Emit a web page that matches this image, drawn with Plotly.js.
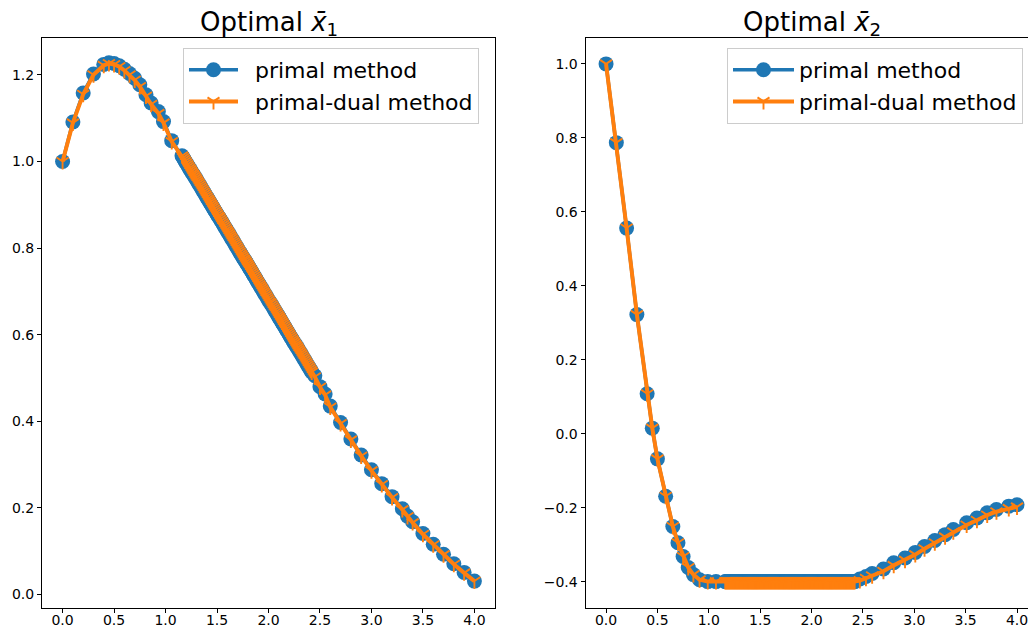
<!DOCTYPE html>
<html>
<head>
<meta charset="utf-8">
<script src="https://cdn.plot.ly/plotly-3.0.1.min.js"></script>
<style>html,body{margin:0;padding:0;background:#fff;}#chart{width:1028px;height:630px;}</style>
</head>
<body>
<div id="chart"></div>
<script>
// ---- time grid of the densely sampled (constrained) stretch, shared by both subplots ----
const tBand = [1.16, 1.17, 1.18, 1.19, 1.20, 1.21, 1.22, 1.23, 1.24, 1.25, 1.26, 1.27, 1.28, 1.29, 1.30, 1.31, 1.32, 1.33, 1.34, 1.35,
  1.36, 1.37, 1.38, 1.39, 1.40, 1.41, 1.42, 1.43, 1.44, 1.45, 1.46, 1.47, 1.48, 1.49, 1.50, 1.51, 1.52, 1.53, 1.54, 1.55,
  1.56, 1.57, 1.58, 1.59, 1.60, 1.61, 1.62, 1.63, 1.64, 1.65, 1.66, 1.67, 1.68, 1.69, 1.70, 1.71, 1.72, 1.73, 1.74, 1.75,
  1.76, 1.77, 1.78, 1.79, 1.80, 1.81, 1.82, 1.83, 1.84, 1.85, 1.86, 1.87, 1.88, 1.89, 1.90, 1.91, 1.92, 1.93, 1.94, 1.95,
  1.96, 1.97, 1.98, 1.99, 2.00, 2.01, 2.02, 2.03, 2.04, 2.05, 2.06, 2.07, 2.08, 2.09, 2.10, 2.11, 2.12, 2.13, 2.14, 2.15,
  2.16, 2.17, 2.18, 2.19, 2.20, 2.21, 2.22, 2.23, 2.24, 2.25, 2.26, 2.27, 2.28, 2.29, 2.30, 2.31, 2.32, 2.33, 2.34, 2.35,
  2.36, 2.37, 2.38, 2.39, 2.40, 2.41, 2.42];

// ---- Left subplot: Optimal x̄1 ----
const t1Early = [0, 0.1, 0.2, 0.3, 0.4, 0.45, 0.5, 0.55, 0.6, 0.65, 0.7, 0.75, 0.81, 0.86, 0.93, 0.98, 1.06];
const t1Late = [2.45, 2.5, 2.55, 2.6, 2.7, 2.8, 2.9, 3.0, 3.1, 3.2, 3.3, 3.35, 3.4, 3.5, 3.6, 3.7, 3.8, 3.9, 4.0];
const x1PrimalEarly = [1.0, 1.091, 1.158, 1.202, 1.224, 1.228, 1.226, 1.221, 1.213, 1.203, 1.192, 1.177, 1.154, 1.135, 1.115, 1.092, 1.048];
const x1DualEarly = [1.0, 1.089, 1.155, 1.200, 1.222, 1.226, 1.224, 1.219, 1.210, 1.200, 1.188, 1.173, 1.151, 1.132, 1.111, 1.089, 1.046];
const x1Band = [1.013, 1.009, 1.005, 1.001, 0.997, 0.993, 0.989, 0.985, 0.981, 0.977, 0.973, 0.970, 0.966, 0.962, 0.958, 0.954, 0.950, 0.946, 0.942, 0.938,
  0.934, 0.930, 0.926, 0.922, 0.918, 0.914, 0.910, 0.906, 0.902, 0.898, 0.894, 0.890, 0.886, 0.882, 0.878, 0.874, 0.871, 0.867, 0.863, 0.859,
  0.855, 0.851, 0.847, 0.843, 0.839, 0.835, 0.831, 0.827, 0.823, 0.819, 0.815, 0.811, 0.807, 0.803, 0.799, 0.795, 0.791, 0.787, 0.783, 0.779,
  0.775, 0.772, 0.768, 0.764, 0.760, 0.756, 0.752, 0.748, 0.744, 0.740, 0.736, 0.732, 0.728, 0.724, 0.720, 0.716, 0.712, 0.708, 0.704, 0.700,
  0.696, 0.692, 0.688, 0.684, 0.680, 0.676, 0.673, 0.669, 0.665, 0.661, 0.657, 0.653, 0.649, 0.645, 0.641, 0.637, 0.633, 0.629, 0.625, 0.621,
  0.617, 0.613, 0.609, 0.605, 0.601, 0.597, 0.593, 0.589, 0.585, 0.581, 0.577, 0.574, 0.570, 0.566, 0.562, 0.558, 0.554, 0.550, 0.546, 0.542,
  0.538, 0.534, 0.530, 0.526, 0.522, 0.518, 0.514];
const x1PrimalLate = [0.505, 0.480, 0.463, 0.435, 0.397, 0.359, 0.322, 0.288, 0.256, 0.226, 0.198, 0.181, 0.168, 0.141, 0.116, 0.093, 0.071, 0.051, 0.031];
const x1DualLate = [0.503, 0.479, 0.461, 0.433, 0.395, 0.357, 0.320, 0.286, 0.254, 0.224, 0.196, 0.180, 0.166, 0.139, 0.115, 0.092, 0.070, 0.050, 0.031];

// ---- Right subplot: Optimal x̄2 ----
const t2Early = [0, 0.1, 0.2, 0.3, 0.4, 0.45, 0.5, 0.58, 0.65, 0.7, 0.75, 0.8, 0.85, 0.91, 0.99, 1.07];
const t2Late = [2.47, 2.53, 2.59, 2.7, 2.8, 2.91, 3.01, 3.1, 3.2, 3.3, 3.38, 3.51, 3.61, 3.71, 3.8, 3.92, 4.0];
const x2Early = [1.0, 0.787, 0.556, 0.322, 0.108, 0.015, -0.068, -0.169, -0.251, -0.295, -0.332, -0.362, -0.381, -0.395, -0.400, -0.400];
const x2Band = [-0.4, -0.4, -0.4, -0.4, -0.4, -0.4, -0.4, -0.4, -0.4, -0.4, -0.4, -0.4, -0.4, -0.4, -0.4, -0.4, -0.4, -0.4, -0.4, -0.4,
  -0.4, -0.4, -0.4, -0.4, -0.4, -0.4, -0.4, -0.4, -0.4, -0.4, -0.4, -0.4, -0.4, -0.4, -0.4, -0.4, -0.4, -0.4, -0.4, -0.4,
  -0.4, -0.4, -0.4, -0.4, -0.4, -0.4, -0.4, -0.4, -0.4, -0.4, -0.4, -0.4, -0.4, -0.4, -0.4, -0.4, -0.4, -0.4, -0.4, -0.4,
  -0.4, -0.4, -0.4, -0.4, -0.4, -0.4, -0.4, -0.4, -0.4, -0.4, -0.4, -0.4, -0.4, -0.4, -0.4, -0.4, -0.4, -0.4, -0.4, -0.4,
  -0.4, -0.4, -0.4, -0.4, -0.4, -0.4, -0.4, -0.4, -0.4, -0.4, -0.4, -0.4, -0.4, -0.4, -0.4, -0.4, -0.4, -0.4, -0.4, -0.4,
  -0.4, -0.4, -0.4, -0.4, -0.4, -0.4, -0.4, -0.4, -0.4, -0.4, -0.4, -0.4, -0.4, -0.4, -0.4, -0.4, -0.4, -0.4, -0.4, -0.4,
  -0.4, -0.4, -0.4, -0.4, -0.4, -0.4, -0.4];
const x2PrimalLate = [-0.393, -0.386, -0.378, -0.366, -0.349, -0.336, -0.321, -0.305, -0.289, -0.273, -0.259, -0.241, -0.228, -0.214, -0.205, -0.196, -0.192];
const x2DualLate = [-0.397, -0.391, -0.384, -0.372, -0.356, -0.342, -0.327, -0.311, -0.295, -0.279, -0.265, -0.247, -0.234, -0.220, -0.211, -0.202, -0.198];

const seriesNames = ['primal method', 'primal-dual method'];
const titles = ['Optimal <i>x̄</i><sub>1</sub>', 'Optimal <i>x̄</i><sub>2</sub>'];
const xTicks = [0, 0.5, 1, 1.5, 2, 2.5, 3, 3.5, 4];

const t1 = t1Early.concat(tBand, t1Late);
const t2 = t2Early.concat(tBand, t2Late);
const x1Primal = x1PrimalEarly.concat(x1Band, x1PrimalLate);
const x1Dual = x1DualEarly.concat(x1Band, x1DualLate);
const x2Primal = x2Early.concat(x2Band, x2PrimalLate);
const x2Dual = x2Early.concat(x2Band, x2DualLate);

const BLUE = '#1f77b4', ORANGE = '#ff7f0e';
const FONT = 'DejaVu Sans, sans-serif';

function primalTrace(x, y, xa, ya, lg) {
  return {x: x, y: y, xaxis: xa, yaxis: ya, legend: lg, name: seriesNames[0], type: 'scatter', mode: 'lines+markers',
    line: {color: BLUE, width: 3.5}, marker: {color: BLUE, size: 15, symbol: 'circle'}};
}
function dualTrace(x, y, xa, ya, lg) {
  return {x: x, y: y, xaxis: xa, yaxis: ya, legend: lg, name: seriesNames[1], type: 'scatter', mode: 'lines+markers',
    line: {color: ORANGE, width: 4}, marker: {color: ORANGE, size: 10, symbol: 'y-down', line: {color: ORANGE, width: 1.9}}};
}

const data = [
  primalTrace(t1, x1Primal, 'x', 'y', 'legend'),
  dualTrace(t1, x1Dual, 'x', 'y', 'legend'),
  primalTrace(t2, x2Primal, 'x2', 'y2', 'legend2'),
  dualTrace(t2, x2Dual, 'x2', 'y2', 'legend2')
];

const W = 1028, H = 630;
const axBase = {
  showgrid: false, zeroline: false, showline: true, linecolor: '#000', linewidth: 1,
  ticks: 'outside', ticklen: 4, tickwidth: 1, tickcolor: '#000',
  tickfont: {family: FONT, size: 14, color: '#000'}, tickformat: '.1f', ticklabeloverflow: 'allow'
};
const yTop = 1 - 38 / H, yBot = 1 - 607.5 / H;

const legendBase = {
  xanchor: 'left', yanchor: 'top', bgcolor: 'rgba(255,255,255,0.8)', bordercolor: '#cccccc', borderwidth: 1,
  font: {family: FONT, size: 22, color: '#000'}, tracegroupgap: 0, itemwidth: 61
};

const layout = {
  width: W, height: H,
  margin: {l: 0, r: 0, t: 0, b: 0},
  paper_bgcolor: '#fff', plot_bgcolor: '#fff',
  showlegend: true,
  xaxis: Object.assign({}, axBase, {domain: [42 / W, 495 / W], range: [-0.2, 4.2], tickvals: xTicks, mirror: true, anchor: 'y', ticklabelstandoff: -4}),
  yaxis: Object.assign({}, axBase, {domain: [yBot, yTop], range: [-0.03, 1.285], dtick: 0.2, tick0: 0, mirror: true, anchor: 'x'}),
  xaxis2: Object.assign({}, axBase, {domain: [585.5 / W, 1], range: [-0.2, 4.107], tickvals: xTicks, mirror: true, anchor: 'y2', ticklabelstandoff: -4}),
  yaxis2: Object.assign({}, axBase, {domain: [yBot, yTop], range: [-0.47, 1.07], dtick: 0.2, tick0: 0, mirror: false, anchor: 'x2'}),
  legend: Object.assign({}, legendBase, {x: 183 / W, y: 1 - 48 / H}),
  legend2: Object.assign({}, legendBase, {x: 727 / W, y: 1 - 48 / H}),
  annotations: [
    {text: titles[0], xref: 'paper', yref: 'paper', x: (42 + 495) / 2 / W, y: 1 - 24 / H, xanchor: 'center', yanchor: 'middle',
     showarrow: false, font: {family: FONT, size: 26, color: '#000'}},
    {text: titles[1], xref: 'paper', yref: 'paper', x: (585.5 + 1037.5) / 2 / W, y: 1 - 24 / H, xanchor: 'center', yanchor: 'middle',
     showarrow: false, font: {family: FONT, size: 26, color: '#000'}}
  ]
};

Plotly.newPlot('chart', data, layout, {displayModeBar: false, staticPlot: true}).then(function (gd) {
  // lengthen the legend line samples to matplotlib's handle length
  gd.querySelectorAll('.legend .traces').forEach(function (tr) {
    tr.querySelectorAll('.legendlines path').forEach(function (p) { p.setAttribute('d', 'M5,0h49'); });
    tr.querySelectorAll('.legendpoints path').forEach(function (p) { p.setAttribute('transform', 'translate(29.5,0)'); });
  });
});
</script>
</body>
</html>
